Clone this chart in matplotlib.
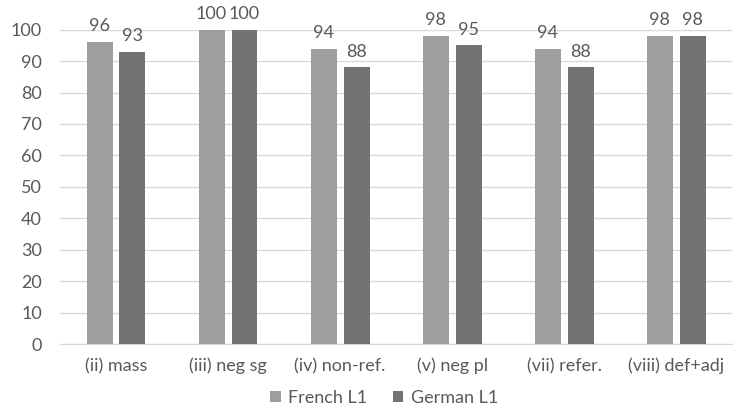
import numpy as np
import matplotlib.pyplot as plt

categories = ["(ii) mass", "(iii) neg sg", "(iv) non-ref.", "(v) neg pl", "(vii) refer.", "(viii) def+adj"]
french = [96, 100, 94, 98, 94, 98]
german = [93, 100, 88, 95, 88, 98]
series_names = ["French L1", "German L1"]

plt.rcParams['font.family'] = ['Lato', 'DejaVu Sans']
txt = "#595959"
fs = 13

fig = plt.figure(figsize=(7.37, 4.12), dpi=100)
ax = fig.add_axes([0.0814, 0.165, 0.912, 0.763])

x = np.arange(len(categories))
w = 0.232
off = 0.147
b1 = ax.bar(x - off, french, w, color="#9e9ea0", label=series_names[0], zorder=3)
b2 = ax.bar(x + off, german, w, color="#727275", label=series_names[1], zorder=3)

for bars, vals in ((b1, french), (b2, german)):
    for r, v in zip(bars, vals):
        ax.text(r.get_x() + r.get_width() / 2, v + 2.5, str(v), ha="center", va="bottom",
                fontsize=fs, color=txt)

ax.set_xlim(-0.5, len(categories) - 0.5)
ax.set_ylim(0, 100)
ax.set_yticks(np.arange(0, 101, 10))
ax.set_xticks(x)
ax.set_xticklabels(categories)
ax.yaxis.grid(True, color="#d9d9d9", linewidth=1, zorder=0)
for s in ["top", "right", "left"]:
    ax.spines[s].set_visible(False)
ax.spines["bottom"].set_color("#d9d9d9")
ax.tick_params(axis="both", length=0, colors=txt, labelsize=fs)
ax.tick_params(axis="x", pad=10)
ax.tick_params(axis="y", pad=13)

fig.legend(handles=[b1, b2], loc="center", bbox_to_anchor=(0.521, 0.034), ncol=2,
           frameon=False, fontsize=fs, labelcolor=txt, handlelength=0.6,
           handleheight=0.6, handletextpad=0.4, columnspacing=1.4)

fig.savefig("out.png", dpi=100)
